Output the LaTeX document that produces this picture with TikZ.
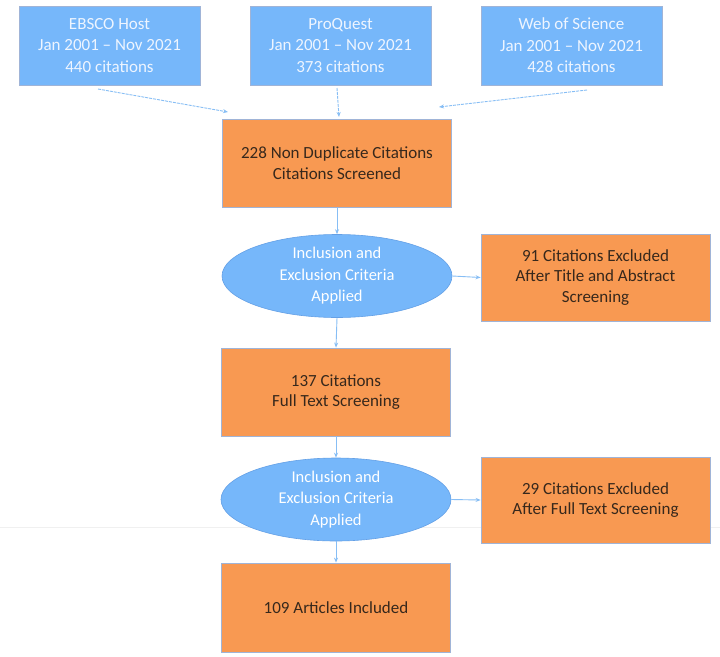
\documentclass[tikz,border=0pt]{standalone}
\usepackage{fontspec}
\setmainfont{Carlito}
\usetikzlibrary{shapes.geometric,arrows.meta}
\definecolor{boxblue}{RGB}{118,183,250}
\definecolor{boxorange}{RGB}{248,153,82}
\definecolor{edgegray}{RGB}{160,180,215}
\definecolor{ellipseedge}{RGB}{100,160,230}
\definecolor{linkblue}{RGB}{135,190,245}
\definecolor{bluetext}{RGB}{238,245,255}
\definecolor{orangetext}{RGB}{55,40,28}
\tikzset{
  srcbox/.style={draw=edgegray, line width=0.8pt, fill=boxblue, text=bluetext,
    minimum width=181pt, minimum height=79pt, inner sep=0pt, align=center,
    font=\fontsize{17}{21.5}\selectfont},
  orbox/.style={draw=edgegray, line width=0.8pt, fill=boxorange, text=orangetext,
    minimum width=229pt, minimum height=88pt, inner sep=0pt, align=center,
    font=\fontsize{17}{20.5}\selectfont},
  critbox/.style={ellipse, draw=ellipseedge, line width=0.6pt, fill=boxblue, text=white,
    minimum width=230pt, minimum height=83pt, inner sep=0pt, align=center,
    font=\fontsize{16.5}{21.5}\selectfont},
  link/.style={draw=linkblue, line width=0.9pt, -{Stealth[length=5pt,width=4pt]}},
  dlink/.style={link, dash pattern=on 3pt off 1pt}
}
\begin{document}
\begin{tikzpicture}[x=1pt,y=-1pt]
\useasboundingbox (0,0) rectangle (720,656);
\fill[white] (0,0) rectangle (720,656);
% faint horizontal line
\draw[gray!12, line width=0.8pt] (0,527) -- (720,527);

\node[srcbox] (ebsco) at (109.5,45.5) {EBSCO Host\\Jan 2001 -- Nov 2021\\440 citations};
\node[srcbox] (pq) at (340.5,45.5) {ProQuest\\Jan 2001 -- Nov 2021\\373 citations};
\node[srcbox] (wos) at (571.5,45.5) {Web of Science\\Jan 2001 -- Nov 2021\\428 citations};

\node[orbox] (nondup) at (337,163) {228 Non Duplicate Citations\\Citations Screened};
\node[critbox] (crit1) at (337,276) {Inclusion and\\Exclusion Criteria\\Applied};
\node[orbox, minimum height=87pt] (excl1) at (595.5,277.5) {91 Citations Excluded\\After Title and Abstract\\Screening};
\node[orbox] (full) at (336,392) {137 Citations\\Full Text Screening};
\node[critbox] (crit2) at (336,499.5) {Inclusion and\\Exclusion Criteria\\Applied};
\node[orbox, minimum height=86pt] (excl2) at (595.5,500) {29 Citations Excluded\\After Full Text Screening};
\node[orbox, minimum height=89pt] (incl) at (336,607.5) {109 Articles Included};

\coordinate (a1s) at (98,89);
\coordinate (a1e) at (228,112);
\coordinate (a2s) at (337,88);
\coordinate (a2e) at (339,117);
\coordinate (a3s) at (587,90);
\coordinate (a3e) at (439,107);

\draw[dlink] (a1s) -- (a1e);
\draw[dlink] (a2s) -- (a2e);
\draw[dlink] (a3s) -- (a3e);

\draw[link] (nondup.south) -- (crit1.north);
\draw[link] (crit1.east) -- (excl1.west);
\draw[link] (crit1.south) -- (full.north);
\draw[link] (full.south) -- (crit2.north);
\draw[link] (crit2.east) -- (excl2.west);
\draw[link] (crit2.south) -- (incl.north);
\end{tikzpicture}
\end{document}
